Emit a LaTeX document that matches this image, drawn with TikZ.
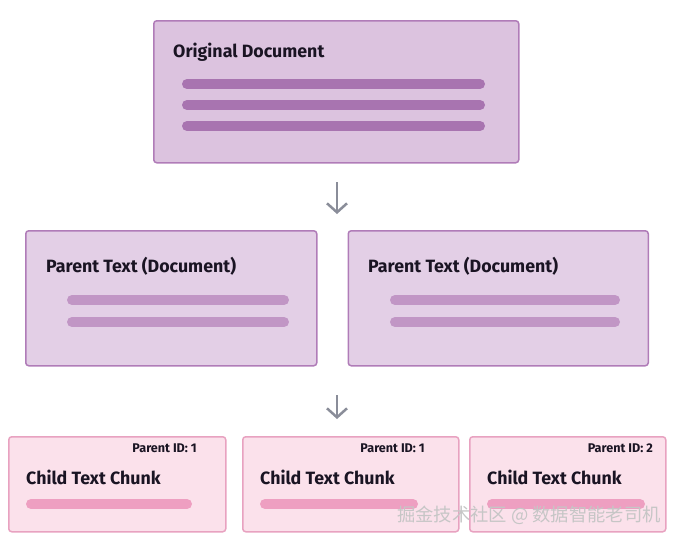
\documentclass[tikz,border=0pt]{standalone}
\usepackage{fontspec}
\setmainfont{Fira Sans}
\newfontfamily\cjkfont{Noto Sans CJK SC}
\usepackage{tikz}
\usetikzlibrary{arrows.meta, positioning}
\definecolor{colorOrigFill}{HTML}{DCC3DF}
\definecolor{colorOrigEdge}{HTML}{B07CB8}
\definecolor{colorOrigBar}{HTML}{A874B0}
\definecolor{colorParFill}{HTML}{E3CFE6}
\definecolor{colorParBar}{HTML}{C196C5}
\definecolor{colorChildFill}{HTML}{FBE1EB}
\definecolor{colorChildEdge}{HTML}{E8A2C0}
\definecolor{colorChildBar}{HTML}{EE9FC1}
\definecolor{colorArrow}{HTML}{8A8D99}
\definecolor{colorInk}{HTML}{1A1423}
\tikzset{
  box/.style={draw, line width=1.5pt, rounded corners=3pt, anchor=north west, inner sep=0pt},
  origbox/.style={box, draw=colorOrigEdge, fill=colorOrigFill},
  parbox/.style={box, draw=colorOrigEdge, fill=colorParFill},
  childbox/.style={box, draw=colorChildEdge, fill=colorChildFill},
  title/.style={anchor=west, inner sep=0pt, text=colorInk, font=\bfseries\fontsize{17.8}{20}\selectfont},
  pid/.style={anchor=east, inner sep=0pt, text=colorInk, font=\bfseries\fontsize{12.6}{14}\selectfont},
  bar/.style={line width=10pt, line cap=round},
  flow/.style={-{Straight Barb[length=9pt, width=20pt, line width=2.5pt]}, colorArrow, line width=2.5pt},
}

\begin{document}
\begin{tikzpicture}[x=1pt, y=-1pt]
\useasboundingbox (0,0) rectangle (673,539);
% original document
\node[origbox, minimum width=365pt, minimum height=142pt] (orig) at (153,20) {};
\node[title] (origT) at (173,52) {Original Document};
\foreach \y in {84,105,126}
  \draw[bar, colorOrigBar] (187,\y) -- (480,\y);
% parent texts
\node[parbox, minimum width=291pt, minimum height=135pt] (parL) at (25,230) {};
\node[parbox, minimum width=300pt, minimum height=135pt, right=30pt of parL.north east, anchor=north west] (parR) {};
\node[title] (parLT) at (46,266) {Parent Text (Document)};
\node[title] (parRT) at (368,266) {Parent Text (Document)};
\foreach \y in {300,322} {
  \draw[bar, colorParBar] (72,\y) -- (284,\y);
  \draw[bar, colorParBar] (395,\y) -- (615,\y);
}
% child chunks
\node[childbox, minimum width=217pt, minimum height=95pt] (chA) at (8,436) {};
\node[childbox, minimum width=216pt, minimum height=95pt] (chB) at (242,436) {};
\node[childbox, minimum width=196pt, minimum height=95pt] (chC) at (469,436) {};
\node[pid] (chAid) at (197,448) {Parent ID: 1};
\node[pid] (chBid) at (425,448) {Parent ID: 1};
\node[pid] (chCid) at (653,448) {Parent ID: 2};
\node[title] (chAT) at (26,477) {Child Text Chunk};
\node[title] (chBT) at (260,477) {Child Text Chunk};
\node[title] (chCT) at (487,477) {Child Text Chunk};
\draw[bar, colorChildBar] (31,504) -- (187,504);
\draw[bar, colorChildBar] (265,504) -- (413,504);
\draw[bar, colorChildBar] (492,504) -- (640,504);
% arrows
\coordinate (a1s) at (337,162);
\coordinate (a1e) at (337,230);
\coordinate (a2s) at (337,365);
\coordinate (a2e) at (337,436);
\draw[flow, shorten <=20pt, shorten >=16pt] (a1s) -- (a1e);
\draw[flow, shorten <=30pt, shorten >=17pt] (a2s) -- (a2e);
% watermark
\node[anchor=west, inner sep=0pt, text=gray!45, font=\cjkfont\fontsize{18.3}{20}\selectfont] (mark) at (397,515) {掘金技术社区 @ 数据智能老司机};
\end{tikzpicture}
\end{document}
